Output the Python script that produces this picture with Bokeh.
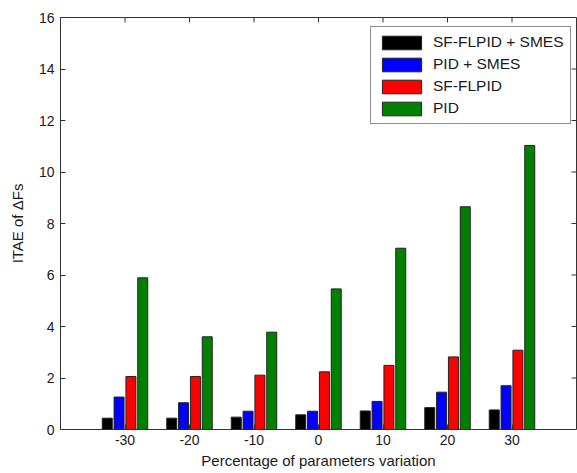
from bokeh.plotting import figure
from bokeh.models import ColumnDataSource, FixedTicker, Range1d, Legend, LegendItem
from bokeh.embed import file_html
from bokeh.resources import INLINE

variation = [-30, -20, -10, 0, 10, 20, 30]
sf_flpid_smes = [0.44, 0.44, 0.48, 0.57, 0.72, 0.85, 0.76]
pid_smes = [1.26, 1.04, 0.71, 0.71, 1.09, 1.45, 1.70]
sf_flpid = [2.06, 2.06, 2.11, 2.24, 2.49, 2.82, 3.08]
pid = [5.89, 3.60, 3.78, 5.46, 7.04, 8.65, 11.03]

series_names = ["SF-FLPID + SMES", "PID + SMES", "SF-FLPID", "PID"]
series_values = [sf_flpid_smes, pid_smes, sf_flpid, pid]
colors = ["#000000", "#0000ff", "#ff0000", "#008000"]
offsets = [-2.75, -0.92, 0.92, 2.75]
y_ticks = list(range(0, 17, 2))
x_tick_labels = {v: str(v) for v in variation}

FONT = "Liberation Sans"
TXT = "#1a1a1a"
X0, X1, Y0, Y1 = -40, 40, 0, 16
W, H = 577, 473
BL, BR, BT, BB = 60, 1, 17, 44

p = figure(width=W, height=H, output_backend="svg", toolbar_location=None,
           x_range=Range1d(X0, X1), y_range=Range1d(Y0, Y1),
           min_border_left=BL, min_border_right=BR, min_border_top=BT, min_border_bottom=BB)
p.background_fill_color = "white"
p.border_fill_color = "white"
p.outline_line_color = "#333333"
p.outline_line_width = 1
p.xgrid.visible = False
p.ygrid.visible = False

renderers = []
for name, vals, col, off in zip(series_names, series_values, colors, offsets):
    src = ColumnDataSource(dict(x=[v + off for v in variation], top=vals))
    r = p.vbar(x="x", top="top", width=1.55, bottom=0, source=src,
               fill_color=col, line_color="#222222", line_width=1)
    renderers.append((name, r))

# inward tick marks on the top and right edges (box style)
TICK = 5
px_per_y = (H - BT - BB) / (Y1 - Y0)
px_per_x = (W - BL - BR) / (X1 - X0)
p.segment(x0=variation, y0=[Y1] * len(variation), x1=variation,
          y1=[Y1 - TICK / px_per_y] * len(variation), line_color="#333333", line_width=1)
p.segment(x0=[X1] * len(y_ticks), y0=y_ticks, x1=[X1 - TICK / px_per_x] * len(y_ticks),
          y1=y_ticks, line_color="#333333", line_width=1)

for ax in [p.xaxis[0], p.yaxis[0]]:
    ax.axis_line_color = None
    ax.major_tick_in = TICK
    ax.major_tick_out = 0
    ax.minor_tick_line_color = None
    ax.major_tick_line_color = "#333333"
    ax.major_label_text_font = FONT
    ax.major_label_text_font_size = "14px"
    ax.major_label_text_color = TXT
    ax.axis_label_text_font = FONT
    ax.axis_label_text_font_size = "15px"
    ax.axis_label_text_font_style = "normal"
    ax.axis_label_text_color = TXT

p.xaxis[0].ticker = FixedTicker(ticks=variation)
p.xaxis[0].major_label_overrides = x_tick_labels
p.xaxis[0].axis_label = "Percentage of parameters variation"
p.xaxis[0].axis_label_standoff = 4
p.xaxis[0].major_label_standoff = 5
p.yaxis[0].ticker = FixedTicker(ticks=y_ticks)
p.yaxis[0].axis_label = "ITAE of \u0394Fs"
p.yaxis[0].major_label_standoff = 6
p.yaxis[0].axis_label_standoff = 10

legend = Legend(items=[LegendItem(label=n, renderers=[r]) for n, r in renderers],
                location=(310, 305), margin=0, padding=6, spacing=4,
                glyph_width=49, glyph_height=17, label_height=17,
                label_standoff=7,
                label_text_font=FONT, label_text_font_size="15.5px", label_text_color=TXT,
                border_line_color="#222222", border_line_width=1, background_fill_alpha=1)
p.add_layout(legend)

open("out.html", "w").write(file_html(p, INLINE))
